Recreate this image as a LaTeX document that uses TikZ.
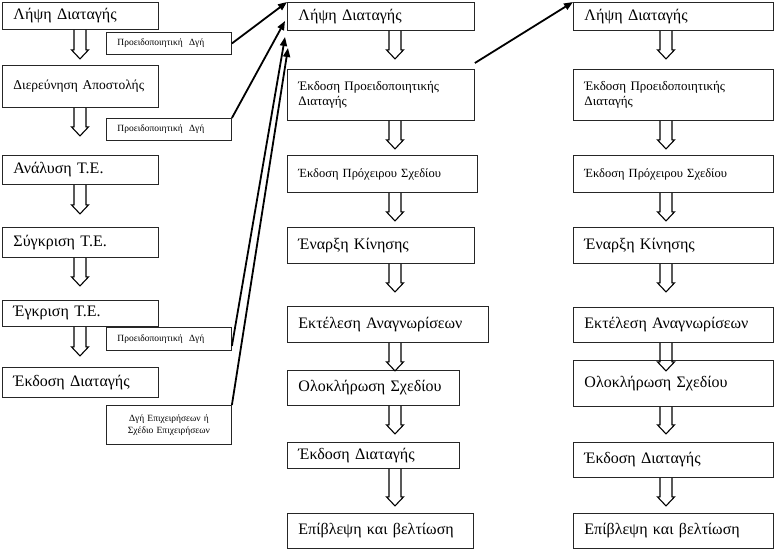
\documentclass[tikz,border=0pt]{standalone}
\usepackage{fontspec}
\setmainfont{Liberation Serif}
\usetikzlibrary{calc,arrows.meta}
\tikzset{
  box/.style={draw=black!85, line width=0.9pt, anchor=north west, inner xsep=11pt, inner ysep=0pt, align=left, font=\fontsize{16}{18}\selectfont},
  smallbox/.style={box, font=\fontsize{9.5}{12}\selectfont},
  midbox/.style={box, font=\fontsize{13}{15.5}\selectfont},
  hollow/.style={draw=black, line width=1.1pt, line join=miter},
  conn/.style={draw=black, line width=1.8pt, -{Triangle[length=9pt,width=7pt]}}
}
\newcommand\harrow[3]{\draw[hollow] let \p1=(#1.south) in
  ({#2pt-6pt},\y1) -- ({#2pt-6pt},{\y1-#3pt+9pt}) -- ({#2pt-8.5pt},{\y1-#3pt+9pt}) -- ({#2pt},{\y1-#3pt}) -- ({#2pt+8.5pt},{\y1-#3pt+9pt}) -- ({#2pt+6pt},{\y1-#3pt+9pt}) -- ({#2pt+6pt},\y1);}
\begin{document}
\begin{tikzpicture}[x=1pt,y=-1pt]
\useasboundingbox (0,0) rectangle (774,549);
% left column
\node[box, text width=134pt, minimum height=27pt] (l1) at (2,2) {Λήψη Διαταγής};
\node[smallbox, text width=103pt, minimum height=22pt] (s1) at (106,32) {Προειδοποιητική\ \ Δγή};
\node[box, text width=134pt, minimum height=42pt, font=\fontsize{13.5}{16}\selectfont] (l2) at (2,65) {Διερεύνηση Αποστολής};
\node[smallbox, text width=103pt, minimum height=22pt] (s2) at (106,118) {Προειδοποιητική\ \ Δγή};
\node[box, text width=134pt, minimum height=29pt] (l3) at (2,155) {Ανάλυση Τ.Ε.};
\node[box, text width=134pt, minimum height=30pt] (l4) at (2,227) {Σύγκριση Τ.Ε.};
\node[box, text width=134pt, minimum height=26pt] (l5) at (2,300) {Έγκριση Τ.Ε.};
\node[smallbox, text width=103pt, minimum height=23pt] (s3) at (106,327) {Προειδοποιητική\ \ Δγή};
\node[box, text width=134pt, minimum height=30pt] (l6) at (2,367) {Έκδοση Διαταγής};
\node[smallbox, text width=103pt, minimum height=39pt, align=center] (s4) at (106,405) {Δγή Επιχειρήσεων ή\\Σχέδιο Επιχειρήσεων};
% middle column
\node[box, text width=165pt, minimum height=28pt] (m1) at (287,2) {Λήψη Διαταγής};
\node[midbox, text width=165pt, minimum height=51pt] (m2) at (287,69) {Έκδοση Προειδοποιητικής\\Διαταγής};
\node[midbox, text width=168pt, minimum height=37pt, font=\fontsize{12.5}{15}\selectfont] (m3) at (287,155) {Έκδοση Πρόχειρου Σχεδίου};
\node[box, text width=165pt, minimum height=36pt] (m4) at (287,227) {Έναρξη Κίνησης};
\node[box, text width=179pt, minimum height=36pt] (m5) at (287,306) {Εκτέλεση Αναγνωρίσεων};
\node[box, text width=150pt, minimum height=35pt] (m6) at (287,370) {Ολοκλήρωση Σχεδίου};
\node[box, text width=150pt, minimum height=26pt] (m7) at (287,442) {Έκδοση Διαταγής};
\node[box, text width=164pt, minimum height=35pt] (m8) at (287,513) {Επίβλεψη και βελτίωση};
% right column
\node[box, text width=178pt, minimum height=28pt] (r1) at (573,2) {Λήψη Διαταγής};
\node[midbox, text width=178pt, minimum height=51pt] (r2) at (573,69) {Έκδοση Προειδοποιητικής\\Διαταγής};
\node[midbox, text width=178pt, minimum height=37pt, font=\fontsize{12.5}{15}\selectfont] (r3) at (573,155) {Έκδοση Πρόχειρου Σχεδίου};
\node[box, text width=178pt, minimum height=36pt] (r4) at (573,227) {Έναρξη Κίνησης};
\node[box, text width=178pt, minimum height=35pt] (r5) at (573,307) {Εκτέλεση Αναγνωρίσεων};
\node[box, text width=178pt, minimum height=46pt] (r6) at (573,360) {Ολοκλήρωση Σχεδίου};
\node[box, text width=178pt, minimum height=35pt] (r7) at (573,442) {Έκδοση Διαταγής};
\node[box, text width=178pt, minimum height=35pt] (r8) at (573,513) {Επίβλεψη και βελτίωση};
% hollow arrows
\harrow{l1}{80}{29}
\harrow{l2}{80}{28}
\harrow{l3}{80}{29}
\harrow{l4}{80}{28}
\harrow{l5}{80}{29}
\harrow{m1}{395}{28}
\harrow{m2}{395}{28}
\harrow{m3}{395}{28}
\harrow{m4}{395}{28}
\harrow{m5}{395}{28}
\harrow{m6}{395}{28}
\harrow{m7}{395}{37}
\harrow{r1}{666}{28}
\harrow{r2}{666}{28}
\harrow{r3}{666}{28}
\harrow{r4}{666}{28}
\harrow{r5}{666}{28}
\harrow{r6}{666}{27}
\harrow{r7}{666}{28}
% connectors
\coordinate (t2) at (285,21);
\coordinate (t3) at (285,37);
\coordinate (t4) at (288,48);
\coordinate (f3) at ($(s3.south east)+(0,-5)$);
\coordinate (f5) at ($(m2.north east)+(0,-6)$);
\draw[conn] (s1.east) -- (m1.north west);
\draw[conn] (s2.north east) -- (t2);
\draw[conn] (f3) -- (t3);
\draw[conn] (s4.north east) -- (t4);
\draw[conn] (f5) -- (r1.north west);
\end{tikzpicture}
\end{document}
